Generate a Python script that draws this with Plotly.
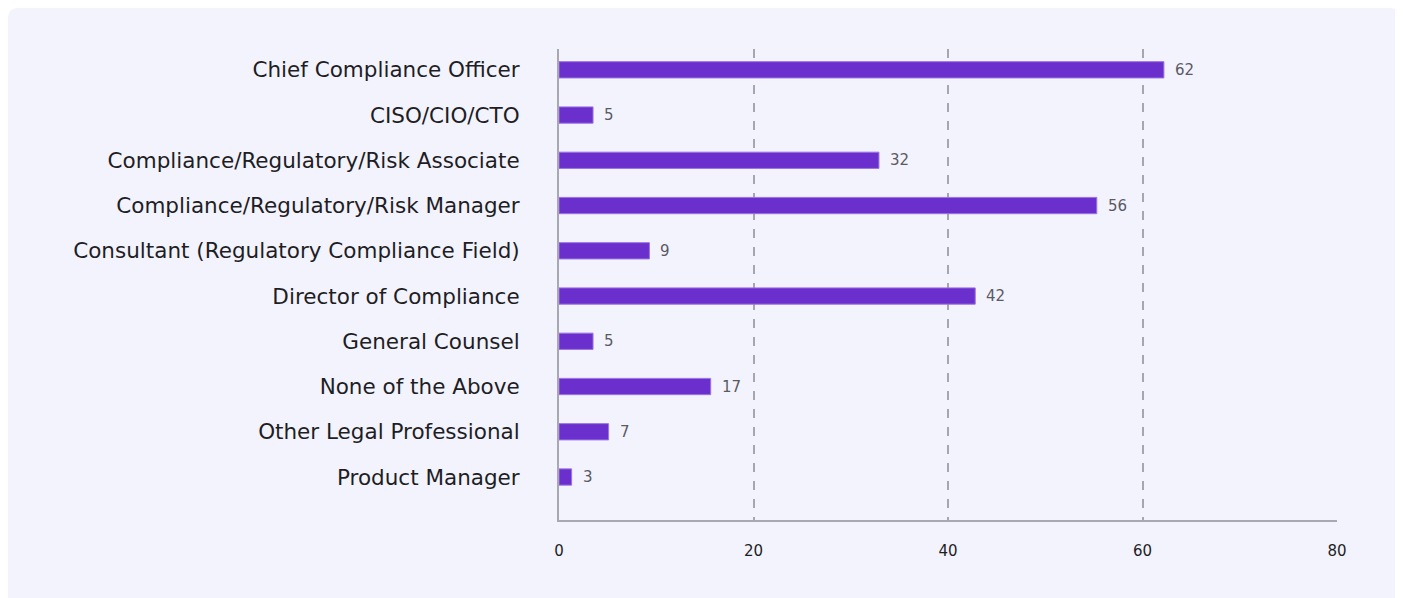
import plotly.graph_objects as go

# Data
roles = [
    "Chief Compliance Officer",
    "CISO/CIO/CTO",
    "Compliance/Regulatory/Risk Associate",
    "Compliance/Regulatory/Risk Manager",
    "Consultant (Regulatory Compliance Field)",
    "Director of Compliance",
    "General Counsel",
    "None of the Above",
    "Other Legal Professional",
    "Product Manager",
]
counts = [62, 5, 32, 56, 9, 42, 5, 17, 7, 3]          # value labels shown
bar_lengths = [62.2, 3.5, 32.9, 55.3, 9.3, 42.8, 3.5, 15.6, 5.1, 1.3]  # drawn bar lengths
x_ticks = [0, 20, 40, 60, 80]

W, H = 1391, 590
L, R, T, B = 551, 62, 41, 78
PW, PH = W - L - R, H - T - B

BG = "#F3F3FD"
BAR = "#6A2FCC"
GRID = "#A6A6B0"


def px2paper(px, py):
    return (px - L) / PW, 1 - (py - T) / PH


fig = go.Figure()
fig.add_trace(go.Bar(
    x=bar_lengths,
    y=roles,
    orientation="h",
    width=0.36,
    marker=dict(color=BAR, line=dict(color="#9B74E2", width=1)),
    hoverinfo="skip",
))

annotations = []
for r, v, c in zip(roles, bar_lengths, counts):
    annotations.append(dict(
        x=v, y=r, xref="x", yref="y", text=str(c), showarrow=False,
        xanchor="left", yanchor="middle", xshift=9,
        font=dict(family="DejaVu Sans", size=15, color="#5A5A63"),
    ))

# rounded card background
x0, y0, x1, y1, rad = 0, 0, W, H + 20, 10
def P(px, py):
    a, b = px2paper(px, py)
    return f"{a:.5f},{b:.5f}"
path = (f"M {P(x0 + rad, y0)} L {P(x1 - rad, y0)} Q {P(x1, y0)} {P(x1, y0 + rad)} "
        f"L {P(x1, y1 - rad)} Q {P(x1, y1)} {P(x1 - rad, y1)} L {P(x0 + rad, y1)} "
        f"Q {P(x0, y1)} {P(x0, y1 - rad)} L {P(x0, y0 + rad)} Q {P(x0, y0)} {P(x0 + rad, y0)} Z")

fig.update_layout(
    width=W, height=H,
    margin=dict(l=L, r=R, t=T, b=B),
    paper_bgcolor="white",
    plot_bgcolor=BG,
    showlegend=False,
    shapes=[dict(type="path", path=path, xref="paper", yref="paper",
                 fillcolor=BG, line=dict(width=0), layer="below")],
    annotations=annotations,
    xaxis=dict(
        range=[0, 80], tickvals=x_ticks, ticktext=[str(t) for t in x_ticks],
        showgrid=True, gridcolor=GRID, griddash="dash", gridwidth=1.5,
        zeroline=False, showline=True, linecolor="#A8A8B2", linewidth=2,
        ticks="", ticklabelstandoff=16,
        tickfont=dict(family="DejaVu Sans", size=15, color="#1E1E24"),
    ),
    yaxis=dict(
        categoryorder="array", categoryarray=roles,
        range=[9.95, -0.46],
        showgrid=False, zeroline=False, showline=True,
        linecolor="#A8A8B2", linewidth=2, ticks="",
        ticklabelstandoff=33,
        tickfont=dict(family="DejaVu Sans", size=21.5, color="#1E1E24"),
    ),
)

fig.write_html("out.html")
